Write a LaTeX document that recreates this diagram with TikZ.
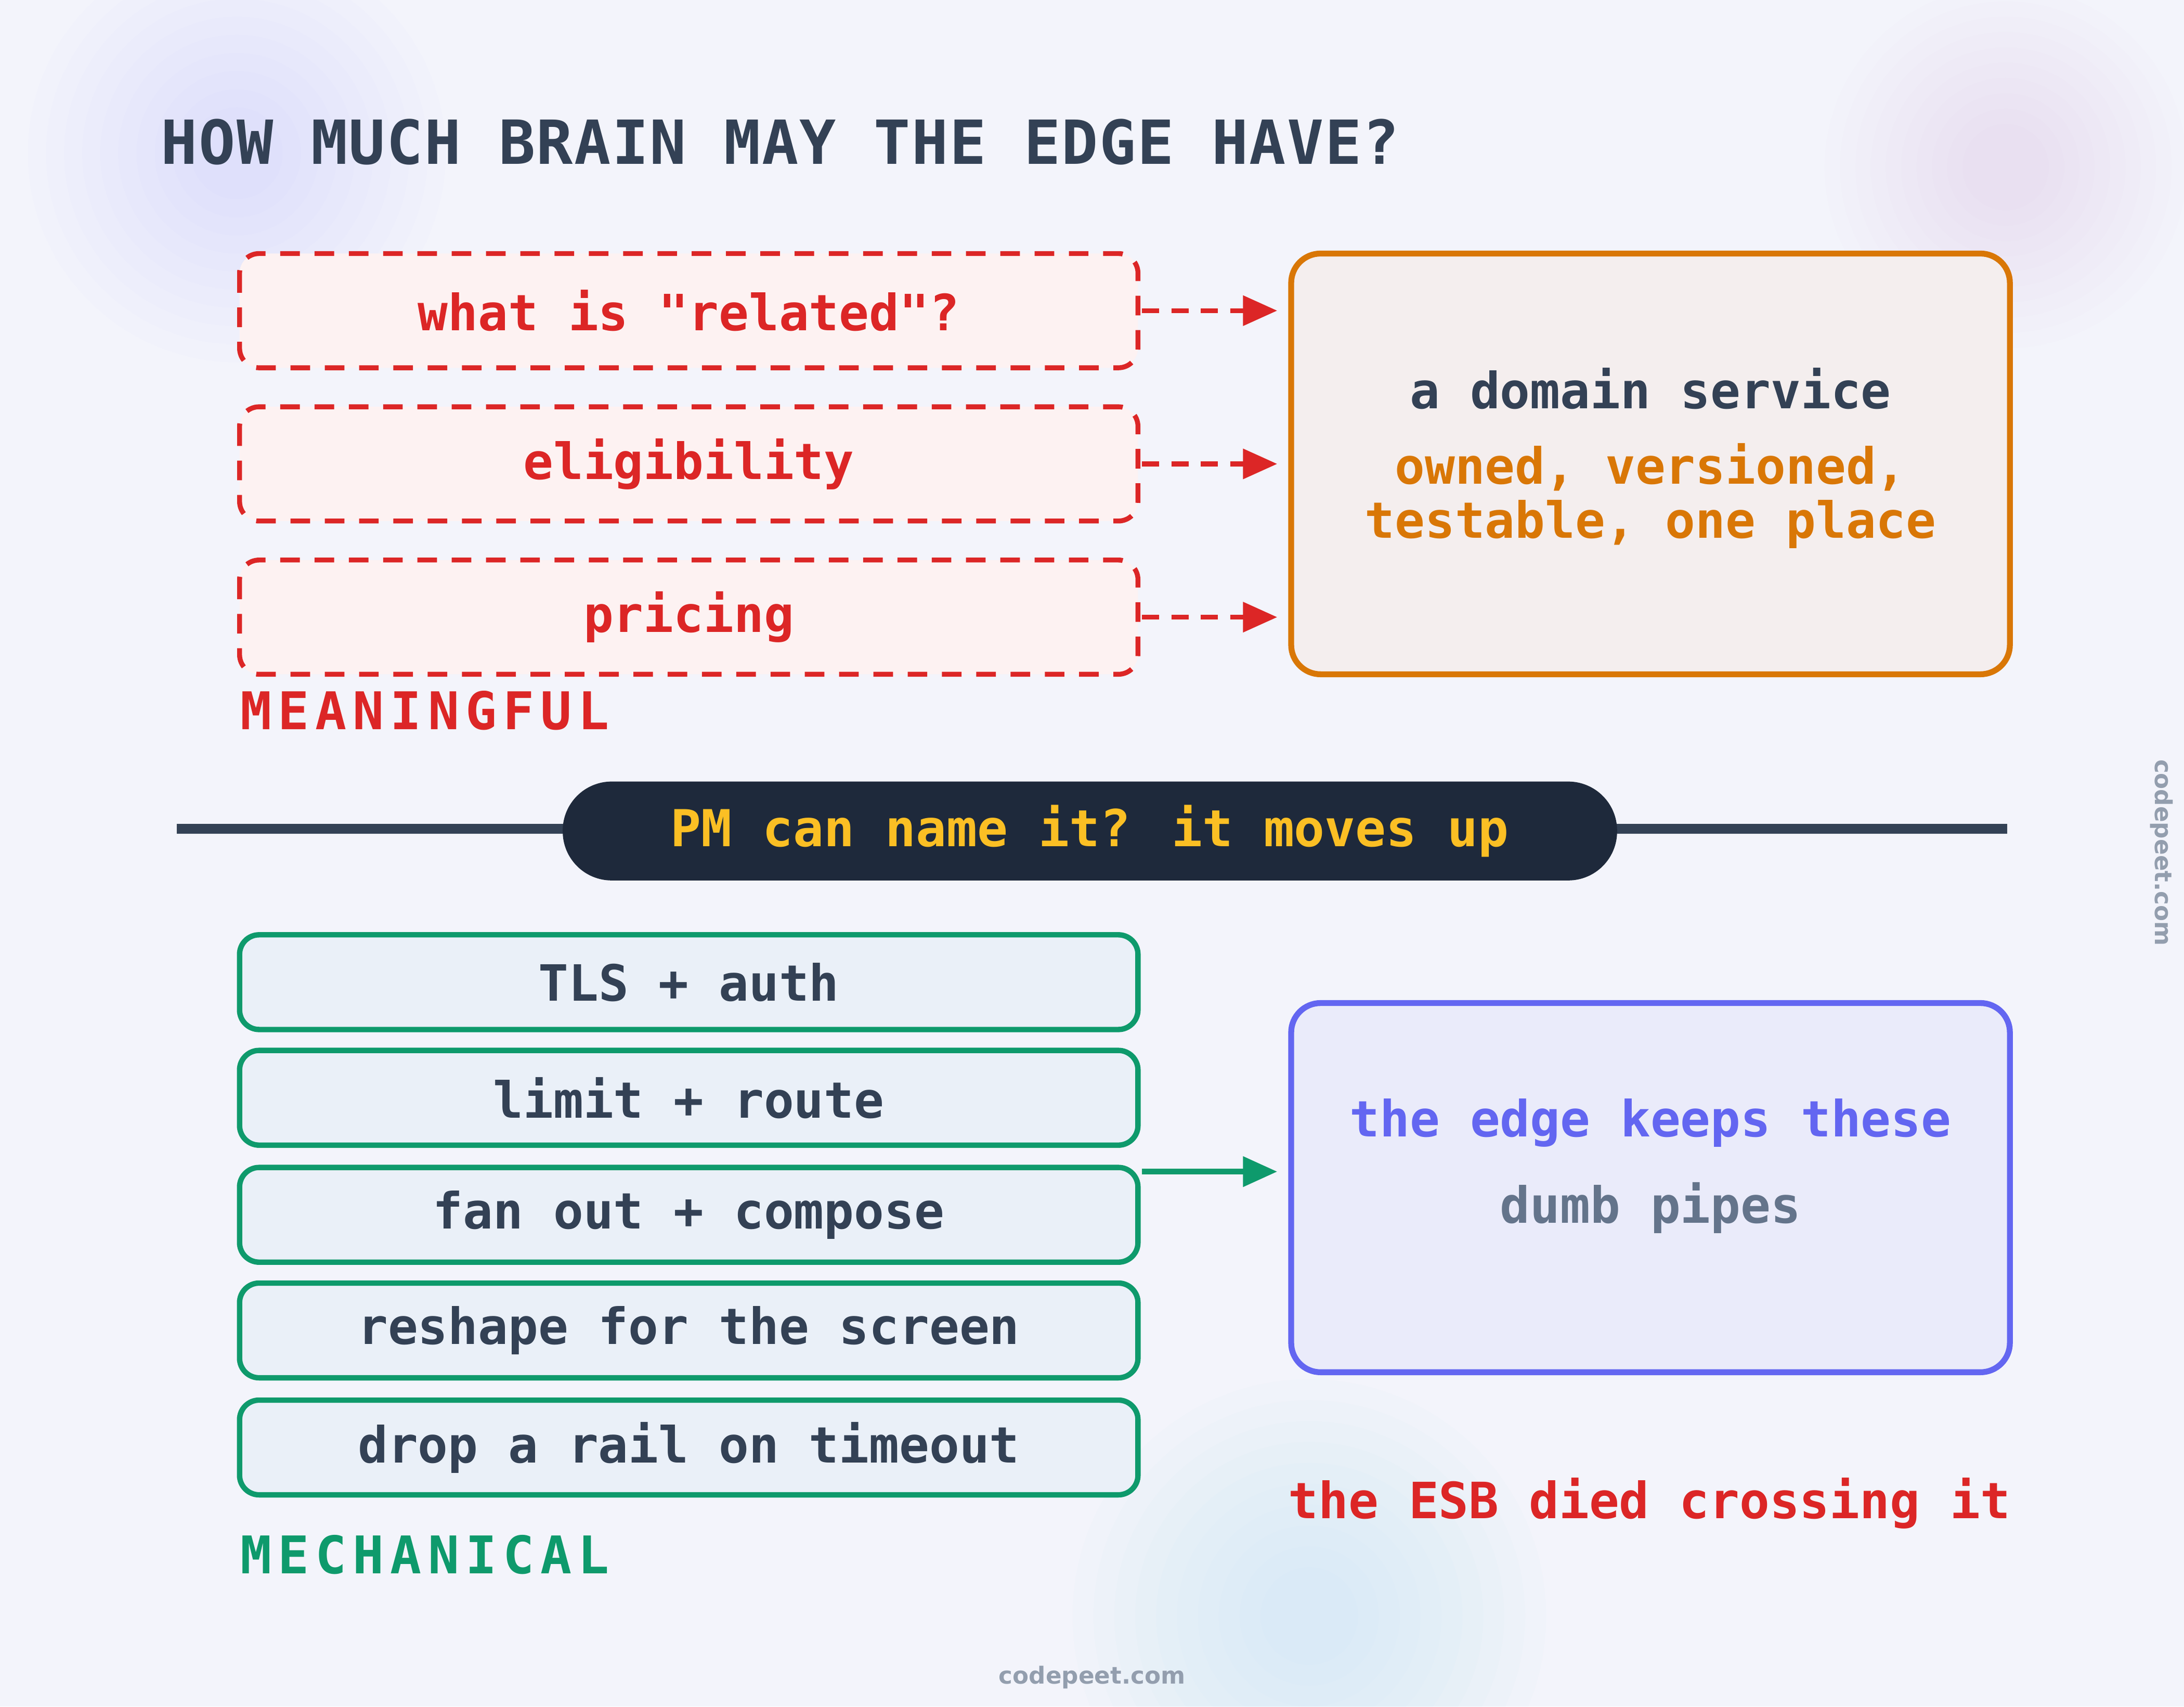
\documentclass[tikz,border=0pt]{standalone}
\usepackage{fontspec}
\setmainfont{DejaVu Sans}
\newfontfamily\mono{DejaVu Sans Mono}
\newfontfamily\monosp[LetterSpace=12]{DejaVu Sans Mono}
\newfontfamily\monotl[LetterSpace=2]{DejaVu Sans Mono}
\usetikzlibrary{arrows.meta}
\definecolor{bg}{HTML}{F3F4FB}
\definecolor{ink}{HTML}{334155}
\definecolor{navy}{HTML}{1E293B}
\definecolor{red}{HTML}{DC2626}
\definecolor{orng}{HTML}{D97706}
\definecolor{grn}{HTML}{0E9A6C}
\definecolor{ind}{HTML}{6366F1}
\definecolor{slate}{HTML}{64748B}
\definecolor{yel}{HTML}{FBBF24}
\begin{document}
\begin{tikzpicture}[x=0.01cm,y=-0.01cm,
  t/.style={font=\mono\bfseries\fontsize{10.2}{12}\selectfont},
  redbox/.style={draw=red,dash pattern=on 4pt off 3pt,line width=1pt,rounded corners=4pt,fill=red!6},
  grnbox/.style={draw=grn,line width=1.1pt,rounded corners=4pt,fill=cyan!4!bg},
  big/.style={line width=1.2pt,rounded corners=6pt},
  rarr/.style={draw=red,line width=1pt,dash pattern=on 3.5pt off 2.5pt,-{Triangle[length=7pt,width=6pt]}},
  garr/.style={draw=grn,line width=1.1pt,-{Triangle[length=7pt,width=6pt]}},
  lab/.style={font=\monosp\bfseries\fontsize{10.6}{14}\selectfont,anchor=west,inner sep=0pt}]
\fill[bg] (0,0) rectangle (1568,1225);
\useasboundingbox (0,0) rectangle (1568,1225);
\foreach \r in {0,...,9}{
  \fill[blue!40,opacity=0.02] (170,110) circle ({150-\r*13});
  \fill[violet!40,opacity=0.02] (1440,120) circle ({130-\r*11});
  \fill[cyan!50,opacity=0.02] (940,1160) circle ({170-\r*15});
}
\node[font=\monotl\bfseries\fontsize{12.4}{15}\selectfont,text=ink,anchor=west,inner sep=0pt] (title) at (115,102) {HOW MUCH BRAIN MAY THE EDGE HAVE?};
% meaningful
\draw[redbox] (172,182) rectangle (817,264);
\node[t,text=red] (r1) at (494.5,223) {what is "related"?};
\draw[redbox] (172,292) rectangle (817,374);
\node[t,text=red] (r2) at (494.5,333) {eligibility};
\draw[redbox] (172,402) rectangle (817,484);
\node[t,text=red] (r3) at (494.5,443) {pricing};
\draw[orng,big,fill=orange!5!bg] (927,182) rectangle (1443,484);
\node[t,text=ink] (ds) at (1185,279) {a domain service};
\node[t,text=orng,align=center] (ds2) at (1185,356) {owned, versioned,\\[-1pt]testable, one place};
\coordinate (o1) at (917,223); \coordinate (o2) at (917,333); \coordinate (o3) at (917,443);
\coordinate (s1) at (820,223); \coordinate (s2) at (820,333); \coordinate (s3) at (820,443);
\draw[rarr] (s1) -- (o1); \draw[rarr] (s2) -- (o2); \draw[rarr] (s3) -- (o3);
\node[lab,text=red] (mean) at (172,510) {MEANINGFUL};
% divider
\coordinate (dl) at (127,595); \coordinate (dr) at (1441,595);
\draw[ink,line width=2pt] (dl) -- (dr);
\fill[navy,rounded corners=10pt] (404,561) rectangle (1161,632);
\node[t,text=yel,font=\mono\bfseries\fontsize{10.4}{12}\selectfont] (pm) at (782.5,596.5) {PM can name it? it moves up};
% mechanical
\foreach \y/\n/\s in {671/g1/TLS + auth,754/g2/limit + route,838/g3/fan out + compose,921/g4/reshape for the screen,1005/g5/drop a rail on timeout}{
  \draw[grnbox] (172,\y) rectangle (817,\y+68);
  \node[t,text=ink] (\n) at (494.5,\y+34) {\s};
}
\draw[ind,big,fill=ind!6!bg] (927,720) rectangle (1443,985);
\node[t,text=ind] (ek) at (1185,806) {the edge keeps these};
\node[t,text=slate] (dp) at (1185,867) {dumb pipes};
\coordinate (ga) at (820,841); \coordinate (gb) at (917,841);
\draw[garr] (ga) -- (gb);
\node[t,text=red,anchor=east,inner sep=0pt] (esb) at (1444,1079) {the ESB died crossing it};
\node[lab,text=grn] (mech) at (172,1116) {MECHANICAL};
\node[font=\bfseries\fontsize{4.8}{6}\selectfont,text=slate!70] (wm) at (784,1204) {codepeet.com};
\node[font=\bfseries\fontsize{4.8}{6}\selectfont,text=slate!70,rotate=-90] (wm2) at (1552,612) {codepeet.com};
\end{tikzpicture}
\end{document}
